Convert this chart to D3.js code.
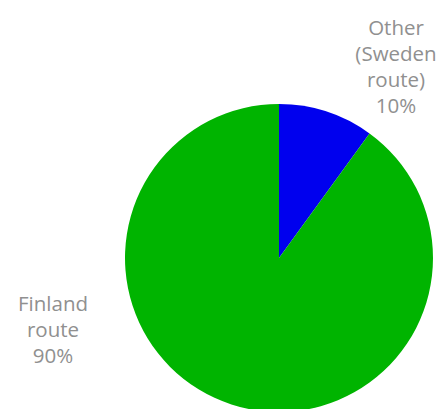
<!DOCTYPE html>
<html><head><meta charset="utf-8">
<script src="https://cdn.jsdelivr.net/npm/d3@7"></script>
<style>body{margin:0;background:#fff}svg{display:block}</style>
</head><body>
<svg id="c" width="440" height="409"></svg>
<script>
const categories = ["Other (Sweden route)", "Finland route"];
const values = [10, 90];
const labelLines = [["Other", "(Sweden", "route)", "10%"], ["Finland", "route", "90%"]];
const colors = ["#0000ee", "#00b400"];

const svg = d3.select("#c");
const cx = 279, cy = 258, r = 154;
const pie = d3.pie().sort(null).value(d => d)(values);
const arc = d3.arc().innerRadius(0).outerRadius(r);
const g = svg.append("g").attr("transform", `translate(${cx},${cy})`);
g.selectAll("path").data(pie).join("path")
  .attr("d", arc).attr("fill", (d, i) => colors[i]);

const labelPos = [[396, 35], [53, 311]];
labelLines.forEach((lines, i) => {
  const t = svg.append("text")
    .attr("text-anchor", "middle")
    .attr("font-family", "'Open Sans', sans-serif")
    .attr("font-size", 20.5)
    .attr("fill", "#909090");
  lines.forEach((l, j) => {
    t.append("tspan").attr("x", labelPos[i][0]).attr("y", labelPos[i][1] + j * 26).text(l);
  });
});
</script>
</body></html>
